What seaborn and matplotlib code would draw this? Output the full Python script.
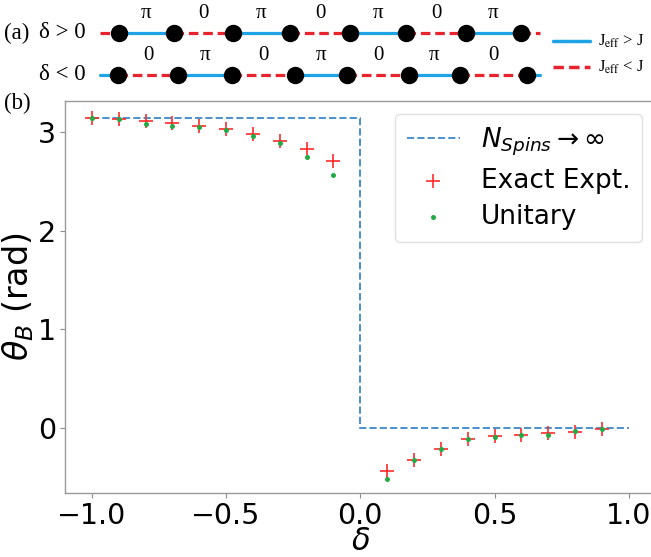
#%% Imports
import numpy as np
import pandas as pd
import seaborn as sns
import matplotlib.pyplot as plt

#%% *** 1. DATA ***

# A. Panel (b): Berry phase vs dimerisation
delta_neg = [-1.0, -0.9, -0.8, -0.7, -0.6, -0.5, -0.4, -0.3, -0.2, -0.1]
delta_pos = [0.1, 0.2, 0.3, 0.4, 0.5, 0.6, 0.7, 0.8, 0.9]
exact_neg = [3.14, 3.13, 3.11, 3.09, 3.06, 3.03, 2.98, 2.91, 2.83, 2.71]
exact_pos = [-0.44, -0.325, -0.21, -0.11, -0.085, -0.075, -0.05, -0.04, -0.01]
unitary_neg = [3.14, 3.13, 3.08, 3.06, 3.05, 3.02, 2.96, 2.89, 2.75, 2.56]
unitary_pos = [-0.52, -0.325, -0.21, -0.11, -0.09, -0.075, -0.07, -0.035, -0.01]

# B. Thermodynamic limit (step)
inf_delta = [-1.0, 0.0, 0.0, 1.0]
inf_theta = [np.pi, np.pi, 0.0, 0.0]

# C. Panel (a): chain schematic (pixel positions of the sites)
row1_sites = [119, 174, 233, 290, 350, 406, 466, 521]
row2_sites = [118, 178, 232, 295, 347, 409, 460, 527]
row1_phases = ['π', '0', 'π', '0', 'π', '0', 'π']
row2_phases = ['0', 'π', '0', 'π', '0', 'π', '0']

df_exact = pd.DataFrame({'delta': delta_neg + delta_pos, 'theta': exact_neg + exact_pos})
df_unit = pd.DataFrame({'delta': delta_neg + delta_pos, 'theta': unitary_neg + unitary_pos})

#%% *** 2. FIGURE ***
sns.set_style('ticks')
plt.rcParams['font.family'] = ['DejaVu Sans']
plt.rcParams['text.color'] = 'black'
plt.rcParams['axes.labelcolor'] = 'black'
plt.rcParams['xtick.labelcolor'] = 'black'
plt.rcParams['ytick.labelcolor'] = 'black'

W, H = 651, 557
fig = plt.figure(figsize=(W / 100, H / 100), dpi=100)

# axes extends past the right border (original figure was cropped)
ax = fig.add_axes([65 / W, 64 / H, 590.6 / W, 392.5 / H])

blue_ln = '#4a90cf'
sns.lineplot(x=inf_delta, y=inf_theta, estimator=None, sort=False, ax=ax,
             color=blue_ln, lw=1.4, ls='--', label=r'$N_{Spins} \rightarrow \infty$')
sns.scatterplot(data=df_exact, x='delta', y='theta', marker='+', color='#ff2a2a',
                s=110, linewidth=1.2, ax=ax, label='Exact Expt.', zorder=3)
sns.scatterplot(data=df_unit, x='delta', y='theta', marker='o', color='#22ab45',
                s=13, linewidth=0, ax=ax, label='Unitary', zorder=4)

ax.set_xlim(-1.1, 1.1)
ax.set_ylim(-0.66, 3.32)
ax.set_xticks([-1.0, -0.5, 0.0, 0.5, 1.0])
ax.set_yticks([0, 1, 2, 3])
ax.tick_params(labelsize=20.5, length=3.5, color='0.55', width=0.8, pad=3)
for sp in ax.spines.values():
    sp.set_color('0.6')
    sp.set_linewidth(1.0)
ax.set_xlabel(r'$\delta$', fontsize=22, labelpad=-2)
ax.set_ylabel(r'$\theta_B$ (rad)', fontsize=24, labelpad=1)

leg = ax.legend(loc='upper right', fontsize=19, handlelength=2.0,
                framealpha=0.8, borderpad=0.45, labelspacing=0.38)
leg.get_frame().set_edgecolor('0.85')

#%% *** 3. PANEL (a) SCHEMATIC ***
ov = fig.add_axes([0, 0, 1, 1])
ov.set_xlim(0, W)
ov.set_ylim(H, 0)
ov.axis('off')
ov.patch.set_alpha(0)

strong = '#1ea4e6'
weak = '#e8232d'
serif = ['Liberation Serif', 'DejaVu Serif']


def draw_chain(y, sites, phases, first_strong):
    # bonds between sites: alternate strong (solid blue) and weak (dashed red)
    for i in range(len(sites) - 1):
        is_strong = (i % 2 == 0) == first_strong
        ov.plot(sites[i:i + 2], [y, y], color=strong if is_strong else weak,
                lw=2.3, ls='-' if is_strong else (0, (3, 1.5)), zorder=1)
        ov.text((sites[i] + sites[i + 1]) / 2, y - 20, phases[i], ha='center',
                va='center', fontsize=15, family=serif)
    # end stubs have the opposite bond type
    end_strong = not first_strong
    ov.plot([100, sites[0]], [y, y], color=strong if end_strong else weak, lw=2.3,
            ls='-' if end_strong else (0, (3, 1.5)), zorder=1)
    ov.plot([sites[-1], 540], [y, y], color=strong if end_strong else weak, lw=2.3,
            ls='-' if end_strong else (0, (3, 1.5)), zorder=1)
    ov.plot(sites, [y] * len(sites), 'o', color='black', ms=11.5, zorder=2)


draw_chain(33, row1_sites, row1_phases, True)
draw_chain(75, row2_sites, row2_phases, False)

ov.text(4, 33, '(a)', fontsize=16.5, family=serif, va='center')
ov.text(39, 33, 'δ > 0', fontsize=16.5, family=serif, va='center')
ov.text(39, 75, 'δ < 0', fontsize=16.5, family=serif, va='center')
ov.text(4, 103, '(b)', fontsize=16.5, family=serif, va='center')

ov.plot([553, 590], [41, 41], color=strong, lw=2.5)
ov.plot([553, 590], [67, 67], color=weak, lw=2.5, ls=(0, (3, 1.5)))
ov.text(598, 41, r'J$_{\rm eff}$ > J', fontsize=12, family=serif,
        math_fontfamily='stix', va='center')
ov.text(598, 67, r'J$_{\rm eff}$ < J', fontsize=12, family=serif,
        math_fontfamily='stix', va='center')

fig.savefig('out.png', dpi=100)
